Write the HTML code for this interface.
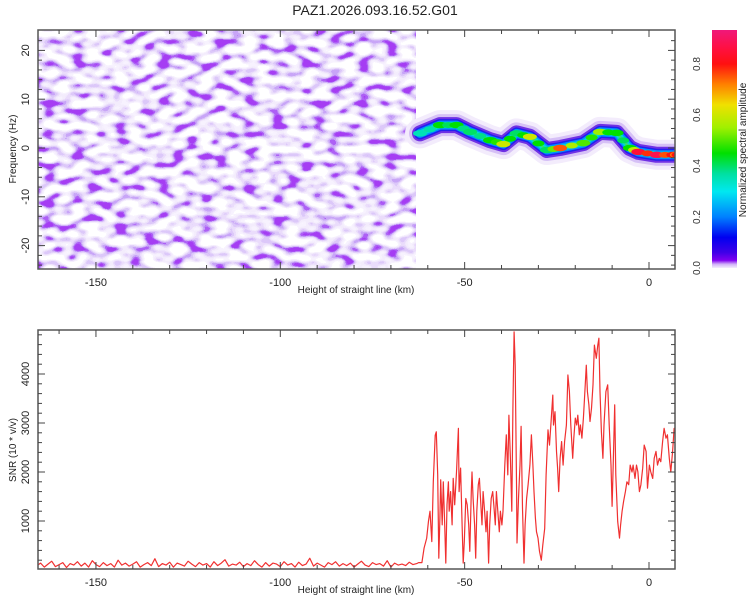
<!DOCTYPE html>
<html><head><meta charset="utf-8"><style>
html,body{margin:0;padding:0;background:#fff;}
svg{display:block;font-family:"Liberation Sans",sans-serif;}
</style></head><body>
<svg id="chart" width="750" height="600" viewBox="0 0 750 600">
<defs>
<clipPath id="clipTop"><rect x="38" y="30" width="637" height="239"/></clipPath>
<clipPath id="clipBot"><rect x="38" y="330" width="637" height="239"/></clipPath>
<clipPath id="clipNoise"><rect x="38" y="30" width="378" height="239"/></clipPath>
<filter id="speckle" x="0" y="0" width="100%" height="100%" filterUnits="userSpaceOnUse">
<feTurbulence type="fractalNoise" baseFrequency="0.07 0.13" numOctaves="1" seed="7"/>
<feColorMatrix type="matrix" values="2.6 0 0 0 -0.82  2.6 0 0 0 -0.82  2.6 0 0 0 -0.82  0 0 0 0 1"/>
<feComponentTransfer>
<feFuncR type="discrete" tableValues="1 1 1 0.93 0.90 0.82 0.72 0.58 0.42 0.38"/>
<feFuncG type="discrete" tableValues="1 1 1 0.89 0.84 0.72 0.58 0.38 0.12 0.05"/>
<feFuncB type="discrete" tableValues="1 1 1 0.99 0.98 0.97 0.95 0.93 0.91 0.90"/>
</feComponentTransfer>
</filter>
<linearGradient id="cbar" x1="0" y1="0" x2="0" y2="1"></linearGradient>
</defs>
<text x="375" y="15" text-anchor="middle" font-size="14" fill="#222">PAZ1.2026.093.16.52.G01</text>
<g id="topPanel"></g>
<g id="botPanel"></g>
<g id="cbPanel"></g>
</svg>
<script>
// ---- data ----
const xTicks = [-150, -100, -50, 0];
const freqTicks = [-20, -10, 0, 10, 20];
const snrTicks = [1000, 2000, 3000, 4000];
const cbTicks = [0.0, 0.2, 0.4, 0.6, 0.8];
const ridgeKm  = [-62.1,-56.7,-52.2,-48.5,-43.1,-39.5,-35.9,-32.3,-27.7,-24.1,-17.8,-13.3,-8.8,-5.2,-2.9,2.1,6.6,8];
const ridgeHz  = [3.0,4.7,4.7,3.3,1.6,0.8,3.0,2.3,-0.4,0,1.0,3.3,3.1,0,-0.8,-1.4,-1.4,-1.4];
const ridgeAmp = [0.35,0.45,0.45,0.4,0.45,0.6,0.4,0.6,0.4,0.75,0.5,0.55,0.45,0.45,0.85,0.88,0.8,0.8];
const floorStart = -166;
const floorVals = [90,140,60,120,180,70,110,150,50,130,100,170,80,140,60,190,110,70,150,90,130,60,200,100,140,80,120,170,60,110,150,90,230,70,130,100,160,60,140,110,80,180,120,70,150,100,130,60,170,90,140,210,80,120,100,160,70,130,90,190,110,60,150,80,140,120,70,170,100,130,60,160,90,120,240,80,140,100,60,150,110,170,80,130,90,140,60,120,180,100,70,150,110,130,80,190,60,140,100,120,90,160,110,130];
const snrKm = [-62.5,-61.6,-61.0,-60.3,-59.8,-59.4,-58.9,-58.5,-58.0,-57.7,-57.3,-57.0,-56.7,-56.5,-56.1,-55.8,-55.4,-55.1,-54.8,-54.4,-54.2,-53.8,-53.4,-53.1,-52.7,-52.2,-51.7,-51.5,-51.1,-50.7,-50.4,-50.1,-49.7,-49.3,-48.9,-48.6,-48.2,-48.0,-47.7,-47.3,-47.0,-46.7,-46.3,-46.0,-45.7,-45.3,-45.0,-44.6,-44.2,-43.9,-43.5,-43.2,-42.8,-42.4,-42.1,-41.7,-41.4,-41.0,-40.6,-40.3,-39.9,-39.6,-39.1,-38.7,-38.3,-38.0,-37.6,-37.2,-36.9,-36.6,-36.3,-35.9,-35.8,-35.4,-35.0,-34.7,-34.3,-33.9,-33.6,-33.2,-32.8,-32.3,-31.9,-31.5,-31.2,-30.8,-30.5,-30.1,-29.7,-29.2,-28.8,-28.3,-27.9,-27.4,-27.0,-26.5,-26.1,-25.9,-25.5,-25.1,-24.8,-24.5,-24.1,-23.7,-23.3,-22.9,-22.4,-22.0,-21.6,-21.2,-20.7,-20.4,-20.0,-19.6,-19.3,-18.9,-18.6,-18.2,-17.8,-17.5,-17.0,-16.7,-16.3,-16.0,-15.6,-15.2,-14.8,-14.3,-13.9,-13.6,-13.3,-12.9,-12.5,-12.2,-11.7,-11.2,-10.8,-10.3,-10.0,-9.7,-9.3,-9.0,-8.5,-8.0,-7.7,-7.3,-6.9,-6.4,-6.0,-5.5,-5.1,-4.6,-4.3,-3.8,-3.4,-3.0,-2.6,-2.2,-1.7,-1.3,-0.8,-0.4,0.1,0.5,1.0,1.4,1.9,2.3,2.8,3.2,3.7,4.1,4.6,5.0,5.5,5.9,6.4,6.8,7.2];
const snrVal = [150,150,450,650,1000,1200,580,1800,2750,2820,1940,240,1060,1840,920,1800,920,140,1330,1800,1200,1600,920,1870,1330,2000,2890,1600,2080,920,140,580,1460,1330,920,380,1600,2000,1460,920,240,1200,1740,1870,1460,920,1600,1200,780,1200,140,920,1460,1600,1330,920,1600,1200,780,1200,920,1200,2140,2760,1940,3160,2280,1200,3300,4860,4180,1600,550,1460,2140,2930,1260,140,920,1460,1740,2140,2760,2140,1600,1060,780,650,380,200,510,850,1940,2860,2550,3100,3570,2960,3230,2420,2080,1600,2280,2620,2140,2620,2960,3980,3640,2960,2280,2690,3100,2960,3160,2760,2960,2690,3100,3500,4180,3640,3370,3030,3300,3780,4590,4320,4590,4730,3640,2820,2280,2960,3640,3780,2960,2140,1300,2140,3370,1940,990,650,920,1200,1400,1600,1800,1740,2140,2000,2140,1870,2140,2000,1600,1740,2080,2550,2420,1670,2140,2000,1870,2280,2420,2140,2280,2210,2620,2890,2690,2760,2280,2000,2420,2890,2900];
const cbStops = [[0.933,'#f0187a'],[0.86,'#ff1040'],[0.8,'#ff1010'],[0.72,'#ff8000'],[0.64,'#f0e000'],[0.55,'#a0f000'],[0.45,'#00e000'],[0.37,'#00e0a0'],[0.3,'#00e8f0'],[0.2,'#0080ff'],[0.12,'#0000f0'],[0.06,'#4000e8'],[0.03,'#8000f0'],[0.015,'#d0b0f8'],[0,'#f4eefc']];

// ---- scales ----
const NS='http://www.w3.org/2000/svg';
const xS = km => 649 + km*3.687;
const yF = hz => 148 - hz*4.88;
const yS = v => 570 - v*0.049;
const yC = v => 268 - v*255;
function mk(tag, attrs, parent){const e=document.createElementNS(NS,tag);for(const k in attrs)e.setAttribute(k,attrs[k]);parent.appendChild(e);return e;}
function hex(c){return [parseInt(c.substr(1,2),16),parseInt(c.substr(3,2),16),parseInt(c.substr(5,2),16)];}
function ampColor(a){for(let i=0;i<cbStops.length-1;i++){const [v1,c1]=cbStops[i],[v2,c2]=cbStops[i+1];if(a<=v1&&a>=v2){const t=(a-v2)/(v1-v2),A=hex(c1),B=hex(c2);return 'rgb('+A.map((x,j)=>Math.round(B[j]+(x-B[j])*t)).join(',')+')';}}return cbStops[0][1];}

const topG=document.getElementById('topPanel'), botG=document.getElementById('botPanel'), cbG=document.getElementById('cbPanel');

// ---- top panel ----
const noiseRect = mk('rect',{x:38,y:30,width:378,height:239,filter:'url(#speckle)','clip-path':'url(#clipNoise)'},topG);


const rg = mk('g',{'clip-path':'url(#clipTop)'},topG);


const pts = ridgeKm.map((k,i)=>xS(k).toFixed(1)+','+yF(ridgeHz[i]).toFixed(1)).join(' ');
[[30,'#f3ecfc'],[22,'#d6c0f6'],[16,'#7030e4'],[12,'#2020f0'],[9,'#0090ff'],[6,'#00d8d8'],[2.5,'#30e070']].forEach(([w,c])=>{
  mk('polyline',{points:pts,fill:'none',stroke:c,'stroke-width':w,'stroke-linejoin':'round','stroke-linecap':'round'},rg);
});
ridgeKm.forEach((k,i)=>{
  const b=mk('ellipse',{cx:xS(k),cy:yF(ridgeHz[i]),rx:7,ry:3.2,fill:ampColor(ridgeAmp[i])},rg);
  
  
  if(i<ridgeKm.length-1){
    const m=mk('ellipse',{cx:(xS(k)+xS(ridgeKm[i+1]))/2,cy:(yF(ridgeHz[i])+yF(ridgeHz[i+1]))/2,rx:6,ry:3,fill:ampColor((ridgeAmp[i]+ridgeAmp[i+1])/2*0.9)},rg);
    
    
  }
});

function axes(g, y0, y1, yTicksMaj, yMap, yMinorStep, yMinorFrom, yMinorTo, ylabel, ylabelY){
  const fr=mk('rect',{x:38,y:y0,width:637,height:y1-y0,fill:'none',stroke:'#555','stroke-width':1.5},g);
  
  
  for(let k=-160;k<=0;k+=10){
    const maj = xTicks.includes(k), L = maj?7:4, x=xS(k);
    mk('line',{x1:x,y1:y1,x2:x,y2:y1-L,stroke:'#444','stroke-width':1},g);
    mk('line',{x1:x,y1:y0,x2:x,y2:y0+L,stroke:'#444','stroke-width':1},g);
  }
  xTicks.forEach(k=>{
    const t=mk('text',{x:xS(k),y:y1+17,'text-anchor':'middle','font-size':11,fill:'#222'},g);
    t.textContent=String(k);
    
    
  });
  const xt=mk('text',{x:356,y:y1+24,'text-anchor':'middle','font-size':10,fill:'#222'},g);
  xt.textContent='Height of straight line (km)';
  
  
  for(let v=yMinorFrom; v<=yMinorTo+1e-9; v+=yMinorStep){
    const y=yMap(v); if(y<y0+1||y>y1-1) continue;
    const maj=yTicksMaj.includes(Math.round(v)), L=maj?7:4;
    mk('line',{x1:38,y1:y,x2:38+L,y2:y,stroke:'#444','stroke-width':1},g);
    mk('line',{x1:675,y1:y,x2:675-L,y2:y,stroke:'#444','stroke-width':1},g);
  }
  yTicksMaj.forEach(v=>{
    const y=yMap(v);
    const t=mk('text',{x:0,y:0,transform:'translate(29,'+y+') rotate(-90)','text-anchor':'middle','font-size':11,fill:'#222'},g);
    t.textContent=String(v);
    
    
  });
  const yt=mk('text',{x:0,y:0,transform:'translate(16,'+ylabelY+') rotate(-90)','text-anchor':'middle','font-size':10,fill:'#222'},g);
  yt.textContent=ylabel;
  
  
}
axes(topG,30,269,freqTicks,yF,2,-24,24,'Frequency (Hz)',149);

// ---- bottom panel ----
const lg=mk('g',{'clip-path':'url(#clipBot)'},botG);
const fp=floorVals.map((v,i)=>[floorStart+i,v]).filter(p=>p[0]<-62.5);
const allPts=fp.concat(snrKm.map((k,i)=>[k,snrVal[i]]));
const snrLine=mk('polyline',{points:allPts.map(p=>xS(p[0]).toFixed(1)+','+yS(p[1]).toFixed(1)).join(' '),fill:'none',stroke:'#f03030','stroke-width':1.2,'stroke-linejoin':'round'},lg);


axes(botG,330,569,snrTicks,yS,200,200,4800,'SNR (10 * v/v)',450);

// ---- colorbar ----
const grad=document.getElementById('cbar');
cbStops.forEach(([v,c])=>mk('stop',{offset:((0.933-v)/0.933).toFixed(4),'stop-color':c},grad));
const cr=mk('rect',{x:712,y:30,width:25,height:238,fill:'url(#cbar)'},cbG);


cbTicks.forEach(v=>{
  const t=mk('text',{x:0,y:0,transform:'translate(700,'+yC(v)+') rotate(-90)','text-anchor':'middle','font-size':10,fill:'#333'},cbG);
  t.textContent=v.toFixed(1);
  
  
});
const ct=mk('text',{x:0,y:0,transform:'translate(746,150) rotate(-90)','text-anchor':'middle','font-size':10,fill:'#222'},cbG);
ct.textContent='Normalized spectral amplitude';


</script>
</body></html>
